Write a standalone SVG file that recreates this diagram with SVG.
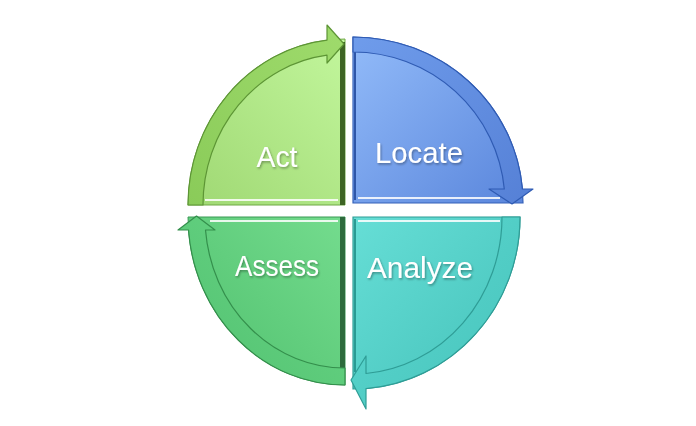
<svg xmlns="http://www.w3.org/2000/svg" width="696" height="426" viewBox="0 0 696 426">
<defs>
<linearGradient id="gAct" x1="1" y1="0" x2="0" y2="1"><stop offset="0" stop-color="#c2f69c"/><stop offset="1" stop-color="#9fd873"/></linearGradient>
<linearGradient id="gActB" x1="1" y1="0" x2="0" y2="1"><stop offset="0" stop-color="#9fdb6c"/><stop offset="1" stop-color="#8acb59"/></linearGradient>
<linearGradient id="gLoc" x1="0" y1="0" x2="1" y2="1"><stop offset="0" stop-color="#92bbf9"/><stop offset="1" stop-color="#5a86dc"/></linearGradient>
<linearGradient id="gLocB" x1="0" y1="0" x2="1" y2="1"><stop offset="0" stop-color="#6f9ceb"/><stop offset="1" stop-color="#5580d6"/></linearGradient>
<linearGradient id="gAna" x1="0" y1="0" x2="1" y2="1"><stop offset="0" stop-color="#66ded6"/><stop offset="1" stop-color="#45c2ba"/></linearGradient>
<linearGradient id="gAnaB" x1="0" y1="0" x2="1" y2="1"><stop offset="0" stop-color="#5dd8d0"/><stop offset="1" stop-color="#47c4bc"/></linearGradient>
<linearGradient id="gAss" x1="1" y1="0" x2="0" y2="1"><stop offset="0" stop-color="#74dc8e"/><stop offset="1" stop-color="#50c06e"/></linearGradient>
<linearGradient id="gAssB" x1="1" y1="0" x2="0" y2="1"><stop offset="0" stop-color="#6ad786"/><stop offset="1" stop-color="#52c171"/></linearGradient>
<filter id="ts" x="-20%" y="-20%" width="140%" height="140%"><feDropShadow dx="1" dy="1.5" stdDeviation="1" flood-color="#000" flood-opacity="0.35"/></filter>
</defs>
<style>
.lbl{font-family:"Liberation Sans",Arial,sans-serif;font-size:29px;fill:#ffffff;text-anchor:middle;filter:url(#ts)}
.hl{stroke:#ffffff;stroke-width:2;fill:none;opacity:0.85}
</style>
<rect width="696" height="426" fill="#ffffff"/>
<g id="act">
<path d="M345,205 L188,205 A157,166 0 0,1 345,39 Z" fill="url(#gAct)" stroke="#6fa845" stroke-width="1"/>
<rect x="340" y="42" width="5" height="163" fill="#3e6424"/>
<line class="hl" x1="205" y1="200" x2="338" y2="200"/>
<path d="M188,205 A157,166 0 0,1 327,40.1 L327,25 L344,44 L327,63 L327,55.2 A142,151 0 0,0 203,205 Z" fill="url(#gActB)" stroke="#5d9535" stroke-width="1.2" stroke-linejoin="round"/>
<text class="lbl" x="277" y="167" textLength="41" lengthAdjust="spacingAndGlyphs">Act</text>
</g>
<g id="locate">
<path d="M353,203 L353,37 A170,166 0 0,1 523,203 Z" fill="url(#gLoc)" stroke="#3460b8" stroke-width="1.2"/>
<line x1="355" y1="52" x2="355" y2="200" stroke="#2e56a8" stroke-width="2"/>
<line class="hl" x1="358" y1="198" x2="500" y2="198"/>
<path d="M353,37 A170,166 0 0,1 522.4,189 L533,189 L512,204 L489,189 L504.3,189 A152,151 0 0,0 353,52 Z" fill="url(#gLocB)" stroke="#2f5bb3" stroke-width="1.2" stroke-linejoin="round"/>
<text class="lbl" x="419" y="163" textLength="88" lengthAdjust="spacingAndGlyphs">Locate</text>
</g>
<g id="analyze">
<path d="M353,217 L520,217 A167,172 0 0,1 353,389 Z" fill="url(#gAna)" stroke="#2f9d96" stroke-width="1.2"/>
<line x1="355" y1="219" x2="355" y2="372" stroke="#2a9a93" stroke-width="2"/>
<line class="hl" x1="358" y1="221" x2="500" y2="221"/>
<path d="M520,217 A167,172 0 0,1 366,388.6 L366,409 L351,380 L366,356 L366,373.5 A149,157 0 0,0 502,217 Z" fill="url(#gAnaB)" stroke="#2f9d96" stroke-width="1.2" stroke-linejoin="round"/>
<text class="lbl" x="420" y="278" textLength="106" lengthAdjust="spacingAndGlyphs">Analyze</text>
</g>
<g id="assess">
<path d="M345,217 L345,385 A157,168 0 0,1 188,217 Z" fill="url(#gAss)" stroke="#3a9a55" stroke-width="1"/>
<rect x="340" y="217" width="5" height="168" fill="#2d6a3c"/>
<line class="hl" x1="210" y1="221" x2="338" y2="221"/>
<path d="M345,385 A157,168 0 0,1 188.5,230 L178,230 L196.5,216 L215,230 L205.5,230 A140,151 0 0,0 345,368 Z" fill="url(#gAssB)" stroke="#348f4c" stroke-width="1.2" stroke-linejoin="round"/>
<text class="lbl" x="277" y="276" textLength="84" lengthAdjust="spacingAndGlyphs">Assess</text>
</g>
</svg>
